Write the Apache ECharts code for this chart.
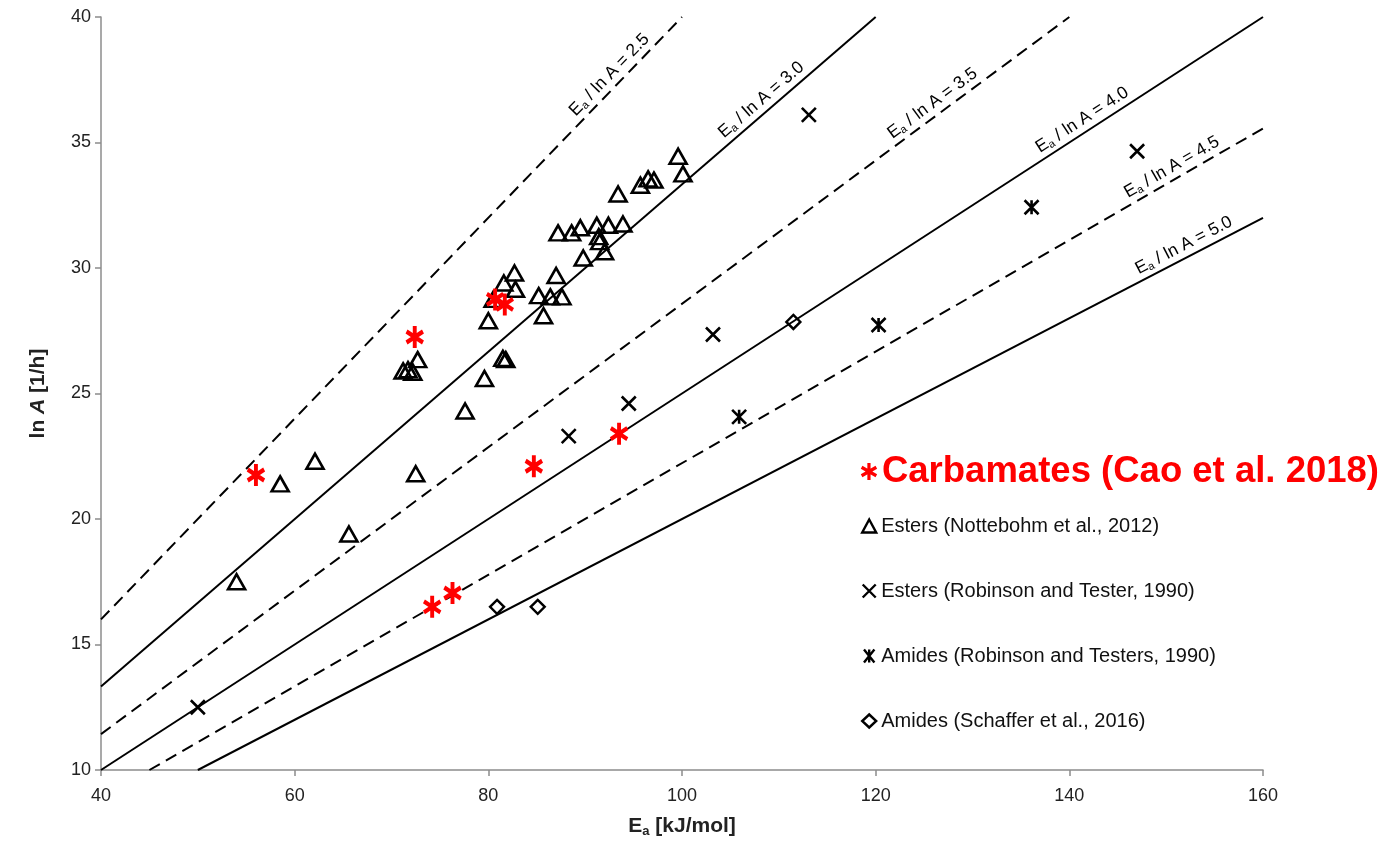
<!DOCTYPE html>
<html><head><meta charset="utf-8">
<script src="https://cdn.jsdelivr.net/npm/echarts@6/dist/echarts.min.js"></script>
<style>html,body{margin:0;padding:0;background:#fff}#c{width:1396px;height:843px}</style>
</head><body><div id="c"></div>
<script>
// ---- data ----
const xTicks = [40, 60, 80, 100, 120, 140, 160];
const yTicks = [10, 15, 20, 25, 30, 35, 40];

const estersNottebohm = [
  [54.0,17.5],[58.5,21.4],[62.1,22.3],[65.6,19.4],[71.2,25.9],[71.7,25.95],[72.2,25.85],
  [72.7,26.35],[72.5,21.8],[77.6,24.3],[79.6,25.6],[81.5,26.4],[81.8,26.35],[80.0,27.9],
  [80.5,28.75],[81.6,29.4],[82.7,29.8],[82.8,29.15],[85.2,28.9],[86.4,28.85],[87.6,28.85],
  [87.0,29.7],[85.7,28.1],[87.2,31.4],[88.6,31.4],[89.5,31.6],[91.2,31.7],[92.4,31.7],
  [93.9,31.75],[91.4,31.25],[91.5,31.05],[92.0,30.65],[89.8,30.4],[93.4,32.95],[95.7,33.3],
  [96.5,33.55],[97.1,33.5],[99.6,34.45],[100.1,33.75]
];
const estersRobinson = [[50.0,12.5],[88.3,23.3],[94.5,24.6],[103.2,27.35],[113.1,36.1],[147.0,34.65]];
const amidesRobinson = [[105.9,24.07],[120.3,27.73],[136.1,32.42]];
const amidesSchaffer = [[80.9,16.5],[85.1,16.5],[111.5,27.85]];
const carbamates = [[56.0,21.75],[72.4,27.25],[80.7,28.75],[81.7,28.55],[84.7,22.1],[93.5,23.4],[74.2,16.5],[76.3,17.05]];

const ratioValues = ['2.5','3.0','3.5','4.0','4.5','5.0'];
const ratioLines = [
  [[40,16],[100,40]],
  [[40,13.33],[120,40]],
  [[40,11.43],[140,40]],
  [[40,10],[160,40]],
  [[45,10],[160,35.56]],
  [[50,10],[160,32]]
];
const ratioDashed = [true,false,true,false,true,false];
const ratioLabelEa = [93.4,109.0,126.6,142.0,151.2,152.4];

const seriesNames = [
  'Carbamates (Cao et al. 2018)',
  'Esters (Nottebohm et al., 2012)',
  'Esters (Robinson and Tester, 1990)',
  'Amides (Robinson and Testers, 1990)',
  'Amides (Schaffer et al., 2016)'
];

// ---- chart ----
const FONT = '"Liberation Sans", Arial, sans-serif';
const chart = echarts.init(document.getElementById('c'), null, {renderer: 'canvas'});

const crossPath = 'path://M0,0L10,10M10,0L0,10';
const starPath = 'path://M1,0L9,10M9,0L1,10M5,0L5,10';
const redStarPath = 'path://M5,0L5,10M0.67,2.5L9.33,7.5M0.67,7.5L9.33,2.5';

function interpOnLine(i, ea) {
  const [a, b] = ratioLines[i];
  return a[1] + (b[1] - a[1]) * (ea - a[0]) / (b[0] - a[0]);
}

const lineSeries = ratioLines.map((pts, i) => ({
  type: 'line', name: 'ratio' + ratioValues[i], data: pts, symbol: 'none', silent: true,
  lineStyle: {color: '#000', width: 2, type: ratioDashed[i] ? [12, 7] : 'solid'},
  z: 1, animation: false
}));

const option = {
  animation: false,
  backgroundColor: '#fff',
  grid: {left: 101, right: 133, top: 17, bottom: 73, containLabel: false},
  xAxis: {
    type: 'value', min: 40, max: 160, interval: 20,
    splitLine: {show: false},
    axisLine: {lineStyle: {color: '#8c8c8c', width: 1.5}},
    axisTick: {show: true, length: 6, lineStyle: {color: '#8c8c8c', width: 1.5}},
    axisLabel: {fontFamily: FONT, fontSize: 18, color: '#222', margin: 17,
      formatter: v => xTicks.includes(v) ? String(v) : ''},
    name: '{b|E}{s|a}{b| [kJ/mol]}', nameLocation: 'middle', nameGap: 44,
    nameTextStyle: {rich: {
      b: {fontFamily: FONT, fontSize: 21, fontWeight: 'bold', color: '#222', lineHeight: 24},
      s: {fontFamily: FONT, fontSize: 13, fontWeight: 'bold', color: '#222', lineHeight: 24, verticalAlign: 'bottom', padding: [9, 0, 0, 0]}
    }}
  },
  yAxis: {
    type: 'value', min: 10, max: 40, interval: 5,
    splitLine: {show: false},
    axisLine: {show: true, lineStyle: {color: '#8c8c8c', width: 1.5}},
    axisTick: {show: true, length: 6, lineStyle: {color: '#8c8c8c', width: 1.5}},
    axisLabel: {fontFamily: FONT, fontSize: 18, color: '#222', margin: 10,
      formatter: v => yTicks.includes(v) ? String(v) : ''},
    name: '{b|ln }{i|A}{b| [1/h]}', nameLocation: 'middle', nameGap: 52, nameRotate: 90,
    nameTextStyle: {rich: {
      b: {fontFamily: FONT, fontSize: 21, fontWeight: 'bold', color: '#222'},
      i: {fontFamily: FONT, fontSize: 21, fontWeight: 'bold', fontStyle: 'italic', color: '#222'}
    }}
  },
  legend: [
    {
      left: 855, top: 448, orient: 'vertical', selectedMode: false,
      itemWidth: 16, itemHeight: 17,
      itemStyle: {borderWidth: 3.2},
      data: [{name: seriesNames[0], textStyle: {fontFamily: FONT, fontSize: 36.5, fontWeight: 'bold', color: '#ff0000'}}]
    },
    {
      left: 856, top: 511, orient: 'vertical', selectedMode: false,
      itemGap: 45, itemWidth: 14, itemHeight: 13,
      itemStyle: {borderWidth: 2.4},
      textStyle: {fontFamily: FONT, fontSize: 20, color: '#111', lineHeight: 20},
      data: seriesNames.slice(1)
    }
  ],
  series: [
    ...lineSeries,
    {
      type: 'scatter', name: seriesNames[1], data: estersNottebohm, z: 5,
      symbol: 'triangle', symbolSize: [17, 15],
      itemStyle: {color: 'rgba(255,255,255,0)', borderColor: '#000', borderWidth: 2.6, opacity: 1}
    },
    {
      type: 'scatter', name: seriesNames[2], data: estersRobinson, z: 5,
      symbol: crossPath, symbolSize: 14,
      itemStyle: {color: 'rgba(0,0,0,0)', borderColor: '#000', borderWidth: 2.6, opacity: 1}
    },
    {
      type: 'scatter', name: seriesNames[3], data: amidesRobinson, z: 5,
      symbol: starPath, symbolSize: 14,
      itemStyle: {color: 'rgba(0,0,0,0)', borderColor: '#000', borderWidth: 2.6, opacity: 1}
    },
    {
      type: 'scatter', name: seriesNames[4], data: amidesSchaffer, z: 5,
      symbol: 'diamond', symbolSize: 14,
      itemStyle: {color: 'rgba(255,255,255,0)', borderColor: '#000', borderWidth: 2.4, opacity: 1}
    },
    {
      type: 'scatter', name: seriesNames[0], data: carbamates, z: 6,
      symbol: redStarPath, symbolSize: [19, 22], symbolKeepAspect: true,
      itemStyle: {color: 'rgba(0,0,0,0)', borderColor: '#ff0000', borderWidth: 4.2, opacity: 1}
    }
  ]
};
chart.setOption(option);

// ratio labels along each line, placed via the chart's own scales
const labelData = ratioLines.map((pts, i) => {
  const ea = ratioLabelEa[i];
  const onLine = [ea, interpOnLine(i, ea)];
  const p1 = chart.convertToPixel({gridIndex: 0}, pts[0]);
  const p2 = chart.convertToPixel({gridIndex: 0}, pts[1]);
  const dx = p2[0] - p1[0], dy = p2[1] - p1[1];
  const len = Math.hypot(dx, dy);
  const nx = dy / len, ny = -dx / len; // normal pointing up-left
  const pc = chart.convertToPixel({gridIndex: 0}, onLine);
  const off = 12;
  const shifted = chart.convertFromPixel({gridIndex: 0}, [pc[0] + nx * off, pc[1] + ny * off]);
  const angle = Math.atan2(-dy, dx) * 180 / Math.PI;
  return {
    value: shifted,
    label: {
      show: true, rotate: angle, position: 'inside', align: 'center', verticalAlign: 'middle',
      formatter: '{n|E}{s|a}{n| / ln A = ' + ratioValues[i] + '}',
      rich: {
        n: {fontFamily: FONT, fontSize: 17.5, color: '#000', lineHeight: 19},
        s: {fontFamily: FONT, fontSize: 11, color: '#000', lineHeight: 19, verticalAlign: 'bottom', padding: [6, 0, 0, 0]}
      }
    }
  };
});
chart.setOption({
  series: [...option.series, {
    type: 'scatter', name: 'ratioLabels', data: labelData, symbolSize: 0.1, silent: true, z: 4,
    itemStyle: {color: 'rgba(0,0,0,0)', opacity: 1}
  }]
});
</script>
</body></html>
